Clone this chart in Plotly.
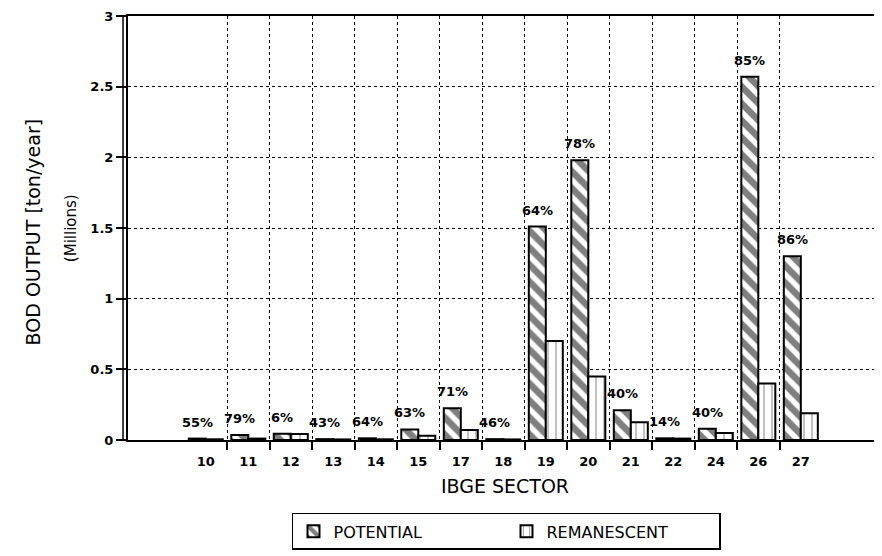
import plotly.graph_objects as go

# ---- data ----
sectors = ["10", "11", "12", "13", "14", "15", "17", "18", "19", "20", "21", "22", "24", "26", "27"]
potential = [0.010, 0.035, 0.045, 0.006, 0.012, 0.075, 0.225, 0.006, 1.51, 1.98, 0.21, 0.012, 0.080, 2.57, 1.30]
remanescent = [0.005, 0.010, 0.042, 0.004, 0.005, 0.030, 0.070, 0.004, 0.70, 0.45, 0.125, 0.010, 0.050, 0.40, 0.19]
pct_labels = ["55%", "79%", "6%", "43%", "64%", "63%", "71%", "46%", "64%", "78%", "40%", "14%", "40%", "85%", "86%"]
y_ticks = [0, 0.5, 1, 1.5, 2, 2.5, 3]
y_tick_text = ["0", "0.5", "1", "1.5", "2", "2.5", "3"]

FONT = "DejaVu Sans"
idx = list(range(len(sectors)))
boundaries = [i + 0.5 for i in idx[:-1]]
x_range = [-1.83, 15.91]

fig = go.Figure()
fig.add_trace(go.Bar(
    x=idx, y=potential, name="POTENTIAL",
    marker=dict(color="white", line=dict(color="black", width=2),
                pattern=dict(shape="\\", fgcolor="black", bgcolor="white", size=12, solidity=0.55)),
))
fig.add_trace(go.Bar(
    x=idx, y=remanescent, name="REMANESCENT",
    marker=dict(color="white", line=dict(color="black", width=2),
                pattern=dict(shape="|", fgcolor="black", bgcolor="white", size=8, solidity=0.12)),
))
# carrier for the boundary axis (ticks + vertical grid)
fig.add_trace(go.Scatter(x=[None], y=[None], xaxis="x2", showlegend=False, hoverinfo="skip"))

for i, (v, t) in enumerate(zip(potential, pct_labels)):
    fig.add_annotation(x=i, y=v, text=t, showarrow=False, xanchor="center", yanchor="bottom",
                       xshift=-8.5, yshift=7, font=dict(family=FONT, size=13, color="black", weight=700))

fig.add_annotation(text="BOD OUTPUT [ton/year]", xref="paper", yref="paper", x=-0.143, y=0.49,
                   textangle=-90, showarrow=False, font=dict(family=FONT, size=19, color="black"))
fig.add_annotation(text="(Millions)", xref="paper", yref="paper", x=-0.09, y=0.5,
                   textangle=-90, showarrow=False, font=dict(family=FONT, size=15, color="black"))

# double left frame line
fig.add_shape(type="line", xref="paper", yref="paper", x0=-0.0066, x1=-0.0066, y0=0, y1=1,
              line=dict(color="black", width=1.5))

# page body has an 8px margin: shrink and shift so the plot lands where the reference has it
fig.update_layout(
    width=874, height=548,
    margin=dict(l=120, r=0, t=8, b=116),
    paper_bgcolor="white", plot_bgcolor="white",
    barmode="group", bargap=0.2, bargroupgap=0,
    font=dict(family=FONT, color="black"),
    showlegend=True,
    legend=dict(orientation="h", x=0.2175, xanchor="left", y=-0.172, yanchor="top",
                bordercolor="black", borderwidth=1.5, bgcolor="white",
                entrywidth=168, entrywidthmode="pixels",
                font=dict(family=FONT, size=16, color="black")),
    xaxis=dict(range=x_range, tickmode="array", tickvals=idx, ticktext=sectors,
               ticks="", showgrid=False, zeroline=False,
               showline=True, linecolor="black", linewidth=2, mirror=True,
               ticklabelstandoff=8,
               tickfont=dict(family=FONT, size=13, color="black", weight=700),
               title=dict(text="IBGE SECTOR", standoff=12,
                          font=dict(family=FONT, size=19, color="black"))),
    xaxis2=dict(range=x_range, overlaying="x", anchor="y", side="bottom",
                tickmode="array", tickvals=boundaries, showticklabels=False,
                ticks="outside", ticklen=9, tickwidth=1.5, tickcolor="black",
                showgrid=True, gridcolor="black", griddash="dot", gridwidth=1,
                zeroline=False, showline=False),
    yaxis=dict(range=[0, 3], tickmode="array", tickvals=y_ticks, ticktext=y_tick_text,
               ticks="outside", ticklen=10, tickwidth=1.5, tickcolor="black",
               showgrid=True, gridcolor="black", griddash="dot", gridwidth=1,
               zeroline=False, showline=True, linecolor="black", linewidth=2,
               tickfont=dict(family=FONT, size=13, color="black", weight=700)),
)

fig.write_html("out.html")
